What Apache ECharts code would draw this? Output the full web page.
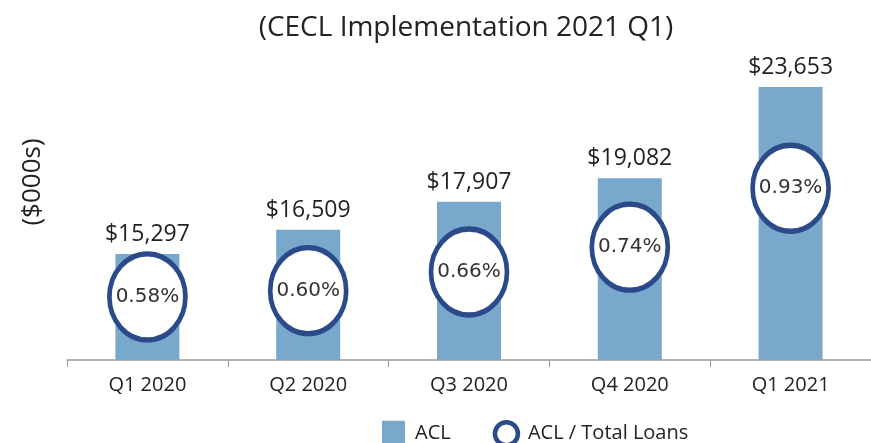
<!DOCTYPE html>
<html>
<head>
<meta charset="utf-8">
<script src="https://cdn.jsdelivr.net/npm/echarts@6/dist/echarts.min.js"></script>
<style>
  html, body { margin: 0; padding: 0; background: #fff; }
  #chart { width: 871px; height: 443px; }
</style>
</head>
<body>
<div id="chart"></div>
<script>
// quarters and values
var quarters = ['Q1 2020', 'Q2 2020', 'Q3 2020', 'Q4 2020', 'Q1 2021'];
var aclValues = [15297, 16509, 17907, 19082, 23653];
var aclRatio = [0.58, 0.60, 0.66, 0.74, 0.93];

var font = '"Open Sans", Lato, sans-serif';
var chart = echarts.init(document.getElementById('chart'));

var option = {
  animation: false,
  title: {
    text: '(CECL Implementation 2021 Q1)',
    left: 461,
    textAlign: 'center',
    top: 9,
    textStyle: { fontFamily: font, fontSize: 28, fontWeight: 'normal', color: '#222' }
  },
  graphic: [{
    type: 'text',
    x: 33,
    y: 182,
    rotation: Math.PI / 2,
    style: {
      text: '($000s)',
      fontFamily: font,
      fontSize: 26,
      fill: '#222',
      align: 'center',
      verticalAlign: 'middle'
    }
  }],
  legend: {
    left: 377,
    top: 415,
    itemGap: 42,
    itemWidth: 23,
    itemHeight: 26,
    textStyle: { fontFamily: font, fontSize: 20, color: '#222', padding: [0, 0, 0, 5] },
    data: [
      { name: 'ACL', icon: 'rect' },
      { name: 'ACL / Total Loans', icon: 'circle',
        itemStyle: { color: '#fff', borderColor: '#2b4a8a', borderWidth: 4.5 } }
    ]
  },
  grid: { left: 67, right: -5, top: 60, bottom: 83 },
  xAxis: {
    type: 'category',
    data: quarters,
    axisLine: { lineStyle: { color: '#9a9a9a', width: 1.5 } },
    axisTick: { show: true, length: 7, lineStyle: { color: '#9a9a9a' } },
    axisLabel: { fontFamily: font, fontSize: 20, color: '#222', margin: 15 }
  },
  yAxis: [
    { type: 'value', min: 10000, max: 25000, show: false },
    { type: 'value', min: 0.3765, max: 1.3433, show: false }
  ],
  series: [
    {
      name: 'ACL',
      type: 'bar',
      data: aclValues,
      barWidth: 64,
      itemStyle: { color: '#78a9cc' },
      label: {
        show: true,
        position: 'top',
        distance: 8,
        fontFamily: font,
        fontSize: 23,
        color: '#222',
        formatter: function (p) { return '$' + p.value.toLocaleString('en-US'); }
      },
      z: 1
    },
    {
      name: 'ACL / Total Loans',
      type: 'scatter',
      yAxisIndex: 1,
      data: aclRatio,
      symbol: 'circle',
      symbolSize: [76, 86],
      itemStyle: { color: '#fff', borderColor: '#2b4a8a', borderWidth: 5, opacity: 1 },
      label: {
        show: true,
        position: 'inside',
        fontFamily: '"DejaVu Sans", sans-serif',
        fontSize: 20,
        color: '#333',
        formatter: function (p) { return p.value.toFixed(2) + '%'; }
      },
      z: 3
    }
  ]
};

chart.setOption(option);
</script>
</body>
</html>
